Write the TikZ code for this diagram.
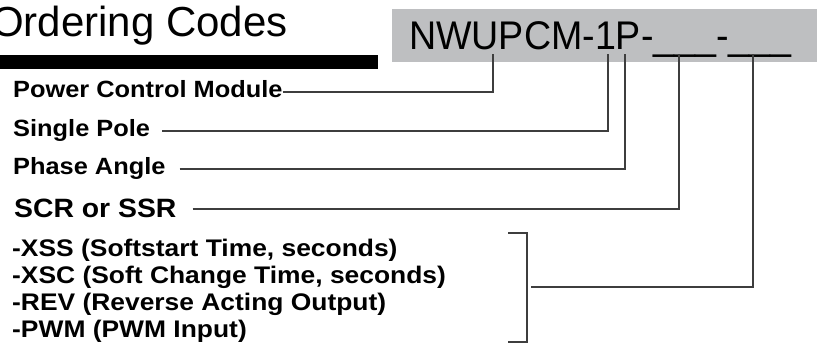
\documentclass[tikz,border=0pt]{standalone}
\usepackage{fontspec}
\setmainfont{Liberation Sans}
\newfontfamily\titlefont{Liberation Sans}[FakeStretch=1.0]
\newfontfamily\codefont{Liberation Sans}[FakeStretch=0.94]
\newfontfamily\partfont{Liberation Sans}[FakeStretch=1.08]
\newfontfamily\scrfont{Liberation Sans}[FakeStretch=1.07]
\newfontfamily\optfont{Liberation Sans}[FakeStretch=1.1]
\definecolor{boxgray}{RGB}{190,191,193}
\definecolor{leadgray}{RGB}{62,62,62}
\tikzset{
  lead/.style={draw=leadgray, line width=1.2pt},
  partname/.style={anchor=base west, inner sep=0pt, text height=10pt, text depth=0pt,
    font=\partfont\bfseries\fontsize{23.5}{27}\selectfont},
  scrname/.style={partname, text height=16pt, font=\scrfont\bfseries\fontsize{26.5}{30}\selectfont},
  optline/.style={anchor=base west, inner sep=0pt, font=\optfont\bfseries\fontsize{24}{27}\selectfont},
}
\begin{document}
\begin{tikzpicture}[x=1pt,y=-1pt]
  \useasboundingbox (0,0) rectangle (817,353);

  % heading and bar
  \node[anchor=base west, inner sep=0pt, font=\titlefont\fontsize{42}{50}\selectfont] (title) at (-9,37) {Ordering Codes};
  \fill[black] (0,55) rectangle (378,69);

  % part number box
  \fill[boxgray] (392,9) rectangle (817,62);
  \node[anchor=base west, inner sep=0pt, font=\codefont\fontsize{40}{48}\selectfont] (code) at (409,50) {NWUPCM-1P-\_\_\_-\_\_\_};

  \coordinate (tapU) at (493,54);
  \coordinate (tapOne) at (608,54);
  \coordinate (tapP) at (625,54);
  \coordinate (tapA) at (679,54);
  \coordinate (tapB) at (753,54);

  % field names
  \node[partname] (pcm) at (13,97) {Power Control Module};
  \node[partname] (sp) at (13,136) {Single Pole};
  \node[partname] (pa) at (13,174) {Phase Angle};
  \node[scrname] (scr) at (14,217) {SCR or SSR};

  \draw[lead] (pcm.east) -| (tapU);
  \draw[lead] ([xshift=12pt]sp.east) -| (tapOne);
  \draw[lead] ([xshift=14pt]pa.east) -| (tapP);
  \draw[lead] ([xshift=16pt]scr.east) -| (tapA);

  % options
  \node[optline] (xss) at (12,256) {-XSS (Softstart Time, seconds)};
  \node[optline] (xsc) at (12,283) {-XSC (Soft Change Time, seconds)};
  \node[optline] (rev) at (12,310) {-REV (Reverse Acting Output)};
  \node[optline] (pwm) at (12,337) {-PWM (PWM Input)};

  \coordinate (brtl) at (508,233);
  \coordinate (brbl) at (508,342);
  \coordinate (brmid) at (531,287);
  \draw[lead] (brtl) -- ++(19,0) |- (brbl);
  \draw[lead] (brmid) -| (tapB);
\end{tikzpicture}
\end{document}
